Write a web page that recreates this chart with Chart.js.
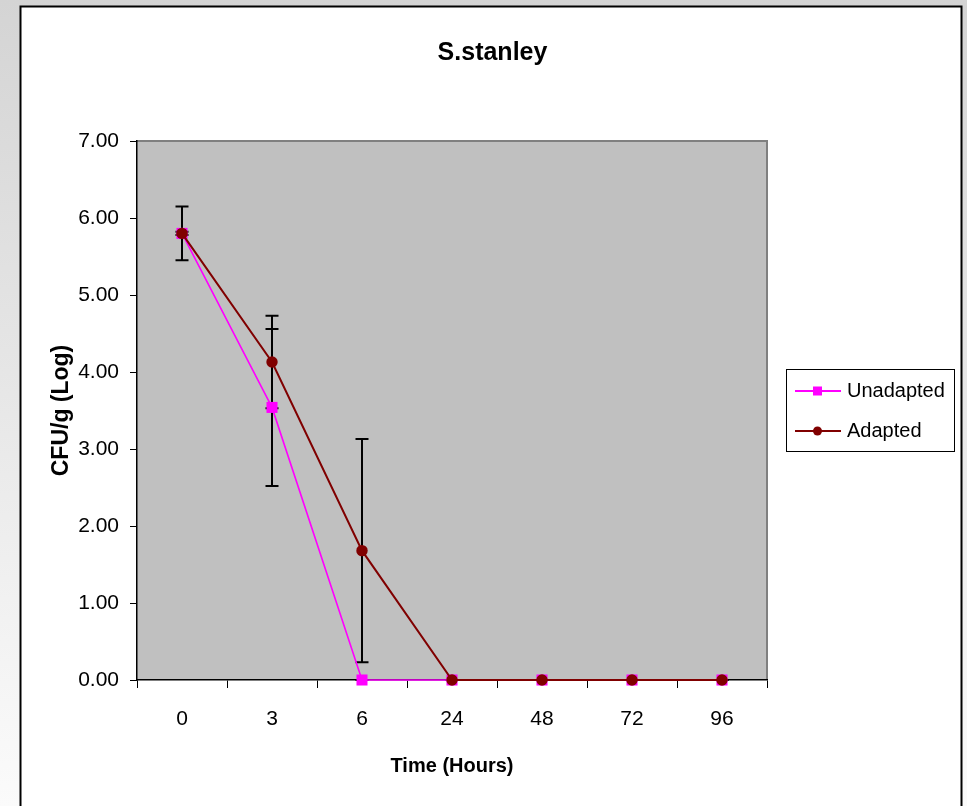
<!DOCTYPE html>
<html>
<head>
<meta charset="utf-8">
<script src="https://cdn.jsdelivr.net/npm/chart.js@4/dist/chart.umd.min.js"></script>
<style>
html,body{margin:0;padding:0;background:#fff;}
#wrap{width:967px;height:806px;position:relative;}
</style>
</head>
<body>
<div id="wrap"><canvas id="c" width="967" height="806"></canvas></div>
<script>
const chartTitle = 'S.stanley';
const xAxisTitle = 'Time (Hours)';
const yAxisTitle = 'CFU/g (Log)';
const categories = ['0', '3', '6', '24', '48', '72', '96'];
const unadapted = [5.80, 3.54, 0.00, 0.00, 0.00, 0.00, 0.00];
const unadaptedErr = [0.02, 1.02, 0.00, 0.00, 0.00, 0.00, 0.00];
const adapted = [5.80, 4.13, 1.68, 0.00, 0.00, 0.00, 0.00];
const adaptedErr = [0.35, 0.60, 1.45, 0.00, 0.00, 0.00, 0.00];
const yTicks = [0, 1, 2, 3, 4, 5, 6, 7];

const FONT = "'Liberation Sans', Arial, sans-serif";

const framePlugin = {
  id: 'frame',
  beforeDraw(chart) {
    const ctx = chart.ctx, W = chart.width, H = chart.height;
    ctx.save();
    const g = ctx.createLinearGradient(0, 0, 0, H);
    g.addColorStop(0, '#d4d4d4');
    g.addColorStop(1, '#fbfbfb');
    ctx.fillStyle = g;
    ctx.fillRect(0, 0, W, H);
    ctx.fillStyle = '#ffffff';
    ctx.fillRect(20.5, 6.5, 941, H);
    ctx.strokeStyle = '#000';
    ctx.lineWidth = 2;
    ctx.strokeRect(20.5, 6.5, 941, H + 10);
    const a = chart.chartArea;
    ctx.fillStyle = '#c0c0c0';
    ctx.fillRect(a.left, a.top, a.right - a.left, a.bottom - a.top);
    ctx.strokeStyle = '#808080';
    ctx.lineWidth = 2;
    ctx.beginPath();
    ctx.moveTo(a.left, a.top);
    ctx.lineTo(a.right, a.top);
    ctx.lineTo(a.right, a.bottom);
    ctx.stroke();
    ctx.restore();
  }
};

const errorBarPlugin = {
  id: 'errbars',
  beforeDatasetsDraw(chart) {
    const ctx = chart.ctx;
    const ys = chart.scales.y;
    ctx.save();
    ctx.strokeStyle = '#000';
    ctx.lineWidth = 2;
    chart.data.datasets.forEach((ds, di) => {
      const meta = chart.getDatasetMeta(di);
      ds.errors.forEach((e, i) => {
        const pt = meta.data[i];
        if (!pt) return;
        const x = pt.x;
        const yTop = ys.getPixelForValue(ds.data[i] + e);
        const yBot = ys.getPixelForValue(Math.max(0, ds.data[i] - e));
        const cap = 6.5;
        ctx.beginPath();
        ctx.moveTo(x, yTop); ctx.lineTo(x, yBot);
        ctx.moveTo(x - cap, yTop); ctx.lineTo(x + cap, yTop);
        ctx.moveTo(x - cap, yBot); ctx.lineTo(x + cap, yBot);
        ctx.stroke();
      });
    });
    ctx.restore();
  }
};

const legendPlugin = {
  id: 'customLegend',
  afterDraw(chart) {
    const ctx = chart.ctx;
    const bx = 786.5, by = 369.5, bw = 168, bh = 82;
    ctx.save();
    ctx.fillStyle = '#fff';
    ctx.fillRect(bx, by, bw, bh);
    ctx.strokeStyle = '#000';
    ctx.lineWidth = 1;
    ctx.strokeRect(bx, by, bw, bh);
    const rows = [391, 431];
    chart.data.datasets.forEach((ds, i) => {
      const y = rows[i];
      ctx.strokeStyle = ds.borderColor;
      ctx.lineWidth = 2;
      ctx.beginPath();
      ctx.moveTo(795, y); ctx.lineTo(841, y);
      ctx.stroke();
      ctx.fillStyle = ds.pointBackgroundColor;
      if (ds.pointStyle === 'rect') {
        ctx.fillRect(813, y - 4.5, 9, 9);
      } else {
        ctx.beginPath();
        ctx.arc(817.5, y, 4.5, 0, Math.PI * 2);
        ctx.fill();
      }
      ctx.fillStyle = '#000';
      ctx.font = '20px ' + FONT;
      ctx.textBaseline = 'middle';
      ctx.textAlign = 'left';
      ctx.fillText(ds.label, 847, y);
    });
    ctx.restore();
  }
};

new Chart(document.getElementById('c'), {
  type: 'line',
  data: {
    labels: categories,
    datasets: [
      {
        label: 'Unadapted',
        data: unadapted,
        errors: unadaptedErr,
        borderColor: '#ff00ff',
        backgroundColor: '#ff00ff',
        pointBackgroundColor: '#ff00ff',
        pointBorderColor: '#ff00ff',
        pointStyle: 'rect',
        pointRadius: 7.8,
        pointBorderWidth: 0,
        borderWidth: 1.6,
        tension: 0,
        clip: false,
        order: 1
      },
      {
        label: 'Adapted',
        data: adapted,
        errors: adaptedErr,
        borderColor: '#800000',
        backgroundColor: '#800000',
        pointBackgroundColor: '#800000',
        pointBorderColor: '#800000',
        pointStyle: 'circle',
        pointRadius: 5.7,
        pointBorderWidth: 0,
        borderWidth: 2,
        tension: 0,
        clip: false,
        order: 0
      }
    ]
  },
  options: {
    responsive: false,
    animation: false,
    devicePixelRatio: 1,
    layout: { padding: { left: 18, right: 0, top: 0, bottom: 0 } },
    plugins: {
      legend: { display: false },
      tooltip: { enabled: false },
      title: {
        display: true,
        text: chartTitle,
        color: '#000',
        font: { family: FONT, size: 25, weight: 'bold' },
        padding: { top: 38, bottom: 73 }
      }
    },
    scales: {
      x: {
        type: 'category',
        offset: true,
        grid: { display: true, drawOnChartArea: false, drawTicks: true, tickLength: 8, offset: true, color: '#000', lineWidth: 1 },
        border: { display: true, color: '#000', width: 1.5 },
        ticks: { color: '#000', font: { family: FONT, size: 21 }, padding: 19, maxRotation: 0 },
        title: { display: true, text: xAxisTitle, color: '#000', font: { family: FONT, size: 20, weight: 'bold' }, padding: { top: 0, bottom: 28 } },
        afterFit(scale) { scale.height = 126; }
      },
      y: {
        min: 0,
        max: 7,
        afterBuildTicks(scale) { scale.ticks = yTicks.map(v => ({ value: v })); },
        grid: { display: true, drawOnChartArea: false, drawTicks: true, tickLength: 7, color: '#000', lineWidth: 1 },
        border: { display: true, color: '#000', width: 1.5 },
        ticks: { color: '#000', font: { family: FONT, size: 21 }, padding: 11, callback: v => Number(v).toFixed(2) },
        title: { display: true, text: yAxisTitle, color: '#000', font: { family: FONT, size: 23, weight: 'bold' }, padding: { top: 30, bottom: 0 } },
        afterFit(scale) { scale.width = 119; }
      },
      yRight: {
        position: 'right',
        display: true,
        grid: { display: false },
        border: { display: false },
        ticks: { display: false },
        afterFit(scale) { scale.width = 200; }
      }
    }
  },
  plugins: [framePlugin, errorBarPlugin, legendPlugin]
});
</script>
</body>
</html>
